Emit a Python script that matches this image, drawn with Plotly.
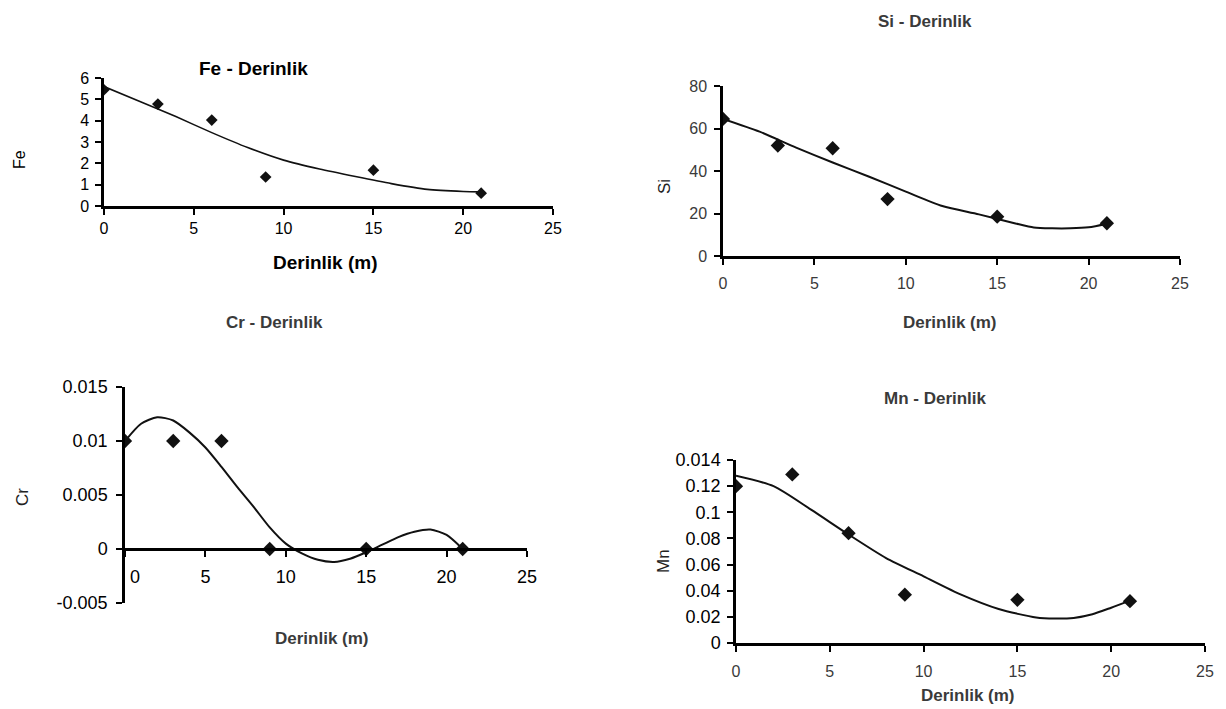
import plotly.graph_objects as go

# Sampling depths (m)
depth = [0, 3, 6, 9, 15, 21]

# Measured concentrations
fe = [5.45, 4.78, 4.03, 1.36, 1.68, 0.6]
si = [64.5, 52.0, 50.7, 26.8, 18.5, 15.4]
cr = [0.01, 0.01, 0.01, 0.0, 0.0, 0.0]
mn = [0.12, 0.129, 0.084, 0.037, 0.033, 0.032]

# Polynomial trend curves
fe_trend_x = [0, 2, 4, 6, 8, 10, 12, 14, 16, 18, 20, 21]
fe_trend_y = [5.6, 4.9, 4.19, 3.44, 2.74, 2.15, 1.73, 1.38, 1.05, 0.78, 0.68, 0.66]

si_trend_x = [0, 2, 4, 6, 8, 10, 12, 14, 16, 17, 18, 19, 20, 21]
si_trend_y = [64.5, 58.5, 51.0, 44.0, 37.3, 30.3, 23.5, 19.6, 15.3, 13.4, 13.0, 13.0, 13.5, 15.2]

cr_trend_x = [0, 1, 2, 3, 4, 5, 6, 7, 8, 9, 10, 11, 12, 13, 14, 15, 16, 17, 18, 19, 20, 21]
cr_trend_y = [0.01, 0.0116, 0.0122, 0.0119, 0.0108, 0.0094, 0.0076, 0.0057, 0.0039, 0.002,
              0.0005, -0.0004, -0.001, -0.0012, -0.0009, -0.0003, 0.0004, 0.0011, 0.0016,
              0.0018, 0.0013, 0.0]

mn_trend_x = [0, 2, 4, 6, 8, 10, 12, 14, 16, 17, 18, 19, 20, 21]
mn_trend_y = [0.128, 0.12, 0.102, 0.083, 0.065, 0.051, 0.037, 0.026, 0.0195, 0.0187,
              0.0192, 0.022, 0.027, 0.0324]

# Axis ticks
x_ticks = [0, 5, 10, 15, 20, 25]
fe_ticks = [0, 1, 2, 3, 4, 5, 6]
si_ticks = [0, 20, 40, 60, 80]
cr_ticks = [-0.005, 0, 0.005, 0.01, 0.015]
cr_tick_text = ["-0.005", "0", "0.005", "0.01", "0.015"]
cr_x_tick_text = ["\u00a0\u00a0\u00a0\u00a00", "5", "10", "15", "20", "25"]
mn_ticks = [0, 0.02, 0.04, 0.06, 0.08, 0.1, 0.12, 0.14]
mn_tick_text = ["0", "0.02", "0.04", "0.06", "0.08", "0.1", "0.12", "0.014"]

W, H = 1226, 709
FONT = "Liberation Sans, Arial, sans-serif"


def fx(px):
    return px / W


def fy(py):
    return 1 - py / H


fig = go.Figure()

panels = [
    dict(x=depth, y=fe, tx=fe_trend_x, ty=fe_trend_y, box=(104, 553, 78, 206), yr=[0, 6],
         lw=1.6, ms=9, xs=0, ys=3),
    dict(x=depth, y=si, tx=si_trend_x, ty=si_trend_y, box=(723, 1180, 86, 256), yr=[0, 80],
         lw=2.0, ms=11, xs=5, ys=4),
    dict(x=depth, y=cr, tx=cr_trend_x, ty=cr_trend_y, box=(125, 527, 387, 603),
         yr=[-0.005, 0.015], lw=2.0, ms=11, xs=5, ys=5),
    dict(x=depth, y=mn, tx=mn_trend_x, ty=mn_trend_y, box=(736, 1205, 460, 643),
         yr=[0, 0.14], lw=2.0, ms=11, xs=6, ys=3),
]

for i, p in enumerate(panels, start=1):
    xa = "x" if i == 1 else f"x{i}"
    ya = "y" if i == 1 else f"y{i}"
    fig.add_trace(go.Scatter(x=p["tx"], y=p["ty"], mode="lines", xaxis=xa, yaxis=ya,
                             line=dict(color="#111111", width=p["lw"], shape="spline",
                                       smoothing=0.7),
                             showlegend=False, hoverinfo="skip"))
    fig.add_trace(go.Scatter(x=p["x"], y=p["y"], mode="markers", xaxis=xa, yaxis=ya,
                             marker=dict(symbol="diamond", size=p["ms"], color="#111111"),
                             showlegend=False))

layout = dict(width=W, height=H, margin=dict(l=0, r=0, t=0, b=0),
              paper_bgcolor="white", plot_bgcolor="white", showlegend=False)

tick_common = dict(showgrid=False, zeroline=False, showline=True, linecolor="black",
                   linewidth=2.5, ticks="outside", ticklen=6, tickwidth=2,
                   tickcolor="black", automargin=False)

styles = [
    dict(tf=dict(family=FONT, size=16, color="black"), xtf=dict(family=FONT, size=16, color="black")),
    dict(tf=dict(family=FONT, size=16, color="#3a3a3a"), xtf=dict(family=FONT, size=16, color="#3a3a3a")),
    dict(tf=dict(family=FONT, size=18, color="black"), xtf=dict(family=FONT, size=18, color="black")),
    dict(tf=dict(family=FONT, size=18, color="black"), xtf=dict(family=FONT, size=16, color="#3a3a3a")),
]

for i, p in enumerate(panels, start=1):
    l, r, t, b = p["box"]
    xkey = "xaxis" if i == 1 else f"xaxis{i}"
    ykey = "yaxis" if i == 1 else f"yaxis{i}"
    ya = "y" if i == 1 else f"y{i}"
    xa = "x" if i == 1 else f"x{i}"
    ydom = [fy(b), fy(t)]
    xaxis = dict(tick_common, domain=[fx(l), fx(r)], range=[0, 25], tickvals=x_ticks,
                 tickfont=styles[i - 1]["xtf"], anchor=ya, ticklabelstandoff=p["xs"])
    yaxis = dict(tick_common, domain=ydom, range=p["yr"], anchor=xa,
                 tickfont=styles[i - 1]["tf"], ticklabelstandoff=p["ys"])
    if i == 1:
        yaxis["tickvals"] = fe_ticks
    elif i == 2:
        yaxis["tickvals"] = si_ticks
    elif i == 3:
        yaxis["tickvals"] = cr_ticks
        yaxis["ticktext"] = cr_tick_text
        # horizontal axis crosses the vertical one at zero
        y0, y1 = p["yr"]
        frac = (0 - y0) / (y1 - y0)
        xaxis["anchor"] = "free"
        xaxis["position"] = ydom[0] + frac * (ydom[1] - ydom[0])
        xaxis["ticktext"] = cr_x_tick_text
    else:
        yaxis["tickvals"] = mn_ticks
        yaxis["ticktext"] = mn_tick_text
    layout[xkey] = xaxis
    layout[ykey] = yaxis

fig.update_layout(**layout)

# Chart titles and axis titles
labels = [
    ("Fe - Derinlik", 253, 69, 19, True, "black", 0),
    ("Derinlik (m)", 326, 262, 19, True, "black", 0),
    ("Fe", 19, 160, 16, False, "black", -90),
    ("Si - Derinlik", 925, 22, 17, True, "#3a3a3a", 0),
    ("Derinlik (m)", 950, 322, 17, True, "#3a3a3a", 0),
    ("Si", 664, 187, 17, False, "#222222", -90),
    ("Cr - Derinlik", 274, 322, 17, True, "#3a3a3a", 0),
    ("Derinlik (m)", 322, 638, 17, True, "#3a3a3a", 0),
    ("Cr", 22, 497, 17, False, "#222222", -90),
    ("Mn - Derinlik", 935, 398, 17, True, "#3a3a3a", 0),
    ("Derinlik (m)", 968, 695, 17, True, "#3a3a3a", 0),
    ("Mn", 663, 561, 17, False, "#222222", -90),
]
for text, px, py, size, bold, color, ang in labels:
    fig.add_annotation(text=f"<b>{text}</b>" if bold else text, xref="paper", yref="paper",
                       x=fx(px), y=fy(py), xanchor="center", yanchor="middle",
                       showarrow=False, textangle=ang,
                       font=dict(family=FONT, size=size, color=color))

fig.write_html("out.html")
